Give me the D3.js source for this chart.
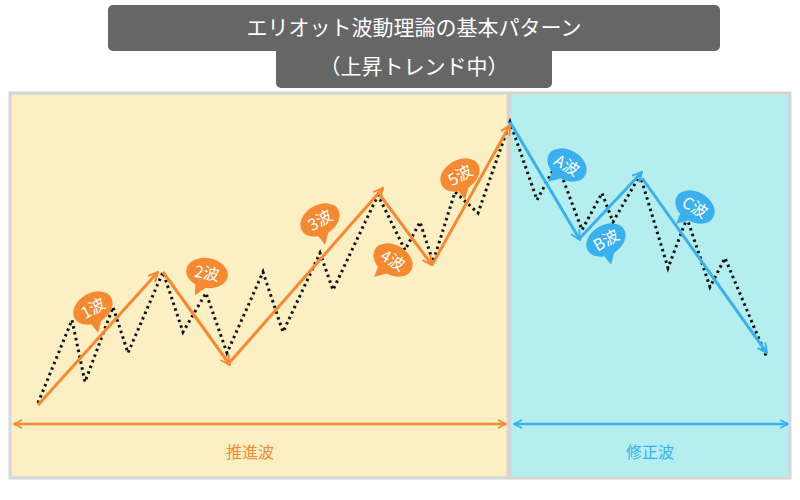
<!DOCTYPE html><html><head><meta charset="utf-8"><script src="https://cdn.jsdelivr.net/npm/d3@7"></script>
<style>body{margin:0;background:#fff}</style></head><body><svg id="c" width="800" height="500"></svg><script>
const titleLines=["エリオット波動理論の基本パターン","（上昇トレンド中）"];
const phases=["推進波","修正波"];
// price path: [time, price]
const priceT=[38,72,85,113,128,163,183,206,227,263,283,320,333,378,405,420,433,455,478,510,537,557,582,602,613,640,668,687,710,725,767];
const priceV=[75,158,96,171,125,206,146,185,125,206,146,225,188,283,228,256,216,286,265,356,278,315,248,285,256,303,210,260,191,220,120];
// wave arrows [t0,p0,t1,p1]
const impulse=[[38,73,158,206],[163,206,230,113],[230,116,383,290],[380,283,432,213],[432,213,510,353]];
const corrective=[[510,356,580,238],[580,240,642,306],[642,300,767,125]];
const impulseLabels=["1波","2波","3波","4波","5波"];
const correctiveLabels=["A波","B波","C波"];
const labelPos=[[93,170,-30],[207,205,10],[320,258,-30],[393,218,30],[460,303,-30]];
const cLabelPos=[[567,313,30],[606,238,-30],[695,271,30]];

const svg=d3.select("#c");
const x=d3.scaleLinear().domain([0,800]).range([0,800]);
const y=d3.scaleLinear().domain([0,385]).range([478,93]);
const OR="#f58a33",BL="#3bb0ee";
svg.append("rect").attr("x",10).attr("y",93).attr("width",498).attr("height",385).attr("fill","#fcefc3").attr("stroke","#d5d5d5").attr("stroke-width",3);
svg.append("rect").attr("x",510).attr("y",93).attr("width",280).attr("height",385).attr("fill","#b5eeee").attr("stroke","#d5d5d5").attr("stroke-width",3);
// title
const g=svg.append("g").attr("font-family","'Noto Sans CJK JP'").attr("fill","#fff");
g.append("rect").attr("x",108).attr("y",5).attr("width",612).attr("height",46).attr("rx",5).attr("fill","#666");
g.append("rect").attr("x",276).attr("y",44).attr("width",276).attr("height",44).attr("rx",5).attr("fill","#666");
g.append("text").attr("x",414).attr("y",35).attr("text-anchor","middle").attr("font-size",21).text(titleLines[0]);
g.append("text").attr("x",414).attr("y",74).attr("text-anchor","middle").attr("font-size",21).text(titleLines[1]);
const defs=svg.append("defs");
[["o",OR],["b",BL]].forEach(([id,c])=>{
 defs.append("marker").attr("id","m"+id).attr("viewBox","0 0 10 10").attr("refX",9).attr("refY",5).attr("markerWidth",4).attr("markerHeight",4).attr("orient","auto-start-reverse")
 .append("path").attr("d","M1,1L9,5L1,9").attr("fill","none").attr("stroke",c).attr("stroke-width",1.6);
});
const line=d3.line().x(d=>x(d[0])).y(d=>y(d[1]));
svg.append("path").datum(priceT.map((t,i)=>[t,priceV[i]])).attr("d",line).attr("fill","none").attr("stroke","#111").attr("stroke-width",3).attr("stroke-dasharray","2.5,3.5");
function arrows(arr,c,id){svg.selectAll(null).data(arr).enter().append("line").attr("x1",d=>x(d[0])).attr("y1",d=>y(d[1])).attr("x2",d=>x(d[2])).attr("y2",d=>y(d[3])).attr("stroke",c).attr("stroke-width",3).attr("marker-end",`url(#m${id})`);}
arrows(impulse,OR,"o");arrows(corrective,BL,"b");
function bubbles(lbls,pos,c){
 lbls.forEach((l,i)=>{const [t,p,r]=pos[i];const b=svg.append("g").attr("transform",`translate(${x(t)},${y(p)}) rotate(${r})`);
 b.append("path").attr("d","M-10,10L-8,24L4,12Z").attr("fill",c);
 b.append("ellipse").attr("rx",21).attr("ry",15).attr("fill",c);
 b.append("text").attr("text-anchor","middle").attr("y",6).attr("font-size",16).attr("fill","#fff").attr("font-family","'Noto Sans CJK JP'").text(l);});
}
bubbles(impulseLabels,labelPos,OR);bubbles(correctiveLabels,cLabelPos,BL);
// phase arrows
svg.append("line").attr("x1",14).attr("x2",506).attr("y1",424).attr("y2",424).attr("stroke",OR).attr("stroke-width",2.5).attr("marker-start","url(#mo)").attr("marker-end","url(#mo)");
svg.append("line").attr("x1",514).attr("x2",788).attr("y1",424).attr("y2",424).attr("stroke",BL).attr("stroke-width",2.5).attr("marker-start","url(#mb)").attr("marker-end","url(#mb)");
svg.append("text").attr("x",250).attr("y",458).attr("text-anchor","middle").attr("font-size",16).attr("fill",OR).attr("font-family","'Noto Sans CJK JP'").text(phases[0]);
svg.append("text").attr("x",650).attr("y",458).attr("text-anchor","middle").attr("font-size",16).attr("fill",BL).attr("font-family","'Noto Sans CJK JP'").text(phases[1]);
</script></body></html>
